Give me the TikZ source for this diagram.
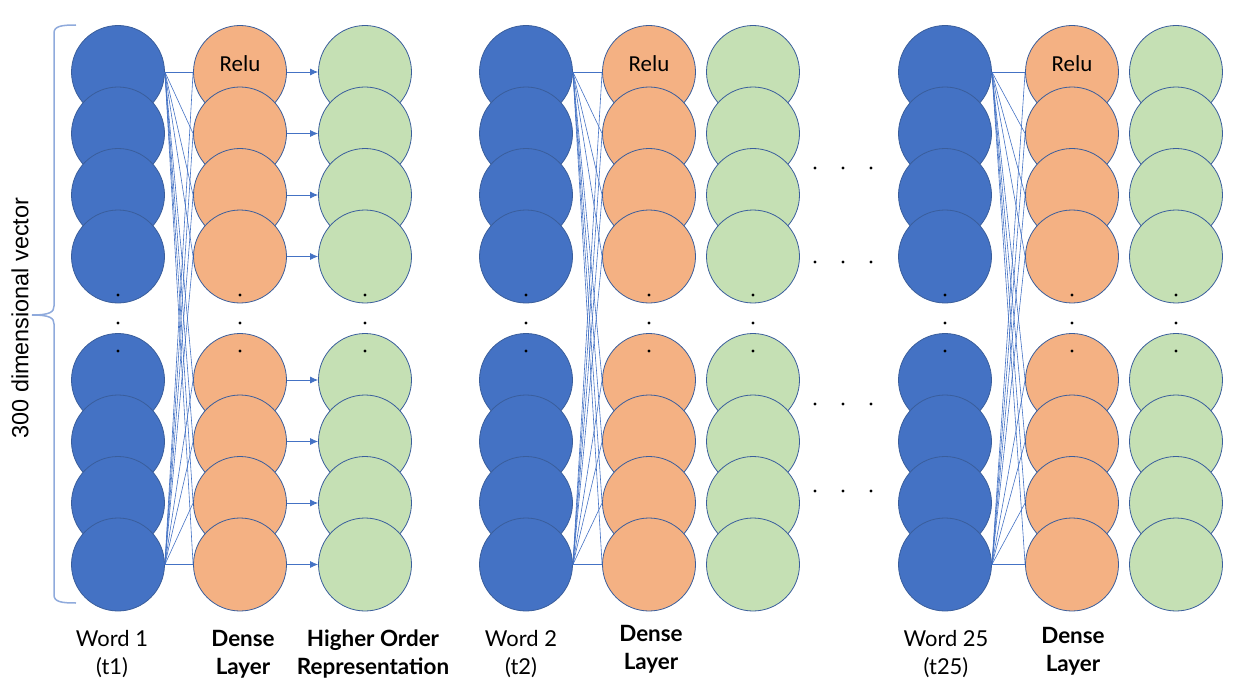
\documentclass[tikz,border=0pt]{standalone}
\usepackage{fontspec}
\setmainfont{Lato}
\newfontfamily\arialfont{Liberation Sans}
\newfontfamily\calibrifont{Carlito}
\usetikzlibrary{
  positioning,
  arrows.meta
}
\definecolor{wordblue}{HTML}{4472C4}
\definecolor{denseorange}{HTML}{F4B183}
\definecolor{reprgreen}{HTML}{C5E0B4}
\definecolor{rimblue}{HTML}{3A5E9C}
\definecolor{braceblue}{HTML}{8FAADC}
\tikzset{
  unit/.style={circle, draw=rimblue, line width=0.8bp, minimum size=93bp, inner sep=0pt},
  wordunit/.style={unit, fill=wordblue},
  denseunit/.style={unit, fill=denseorange},
  reprunit/.style={unit, fill=reprgreen},
  link/.style={draw=wordblue, line width=0.6bp},
  feed/.style={draw=wordblue, line width=0.8bp, -{Latex[length=8bp,width=7bp]}},
  caption/.style={align=center, font=\fontsize{22}{28}\selectfont},
  capbold/.style={align=center, font=\fontsize{22.5}{28}\selectfont\bfseries}
}

\begin{document}
\begin{tikzpicture}[x=1bp,y=-1bp]
  \useasboundingbox (0,0) rectangle (1235,690);

  \foreach \g/\bx/\ox/\gx in {1/118/240/365, 2/526/649/753, 3/945/1072/1176} {
    \foreach \r/\y in {1/72, 2/133.5, 3/195, 4/256.5, 5/380, 6/441.5, 7/503, 8/564.5} {
      \node (w\g-\r) [wordunit] at (\bx,\y) {};
      \node (d\g-\r) [denseunit] at (\ox,\y) {};
      \node (h\g-\r) [reprunit] at (\gx,\y) {};
    }
    \foreach \x in {\bx,\ox,\gx}
      \foreach \y in {295,323,351}
        \fill (\x,\y) circle (1.7bp);
    \foreach \r in {1,...,8} {
      \draw [link] (w\g-1.east) -- (d\g-\r.west);
      \draw [link] (w\g-8.east) -- (d\g-\r.west);
    }
    \node (relu\g) [font=\calibrifont\fontsize{23}{28}\selectfont] at ([yshift=8bp]d\g-1) {Relu};
  }

  \foreach \r in {1,...,8}
    \draw [feed] (d1-\r.east) -- (h1-\r.west);

  \foreach \y in {168,262,404,491}
    \foreach \x in {815,843,871}
      \fill (\x,\y) circle (1.7bp);

  % brace along the input vector
  \draw [braceblue, line width=1.5bp]
    (76,25) .. controls (62,25) and (54,26) .. (54,33) -- (54,306)
    .. controls (54,312) and (50,315) .. (32,315)
    .. controls (50,315) and (54,318) .. (54,324) -- (54,595)
    .. controls (54,602) and (62,603) .. (76,603);
  \node (dimlabel) [rotate=90, font=\arialfont\fontsize{23.5}{26}\selectfont] at (20,318) {300 dimensional vector};

  \node (word1) [caption] at (112,654) {Word 1\\(t1)};
  \node (dense1) [capbold] at (243,654) {Dense\\Layer};
  \node (higher1) [capbold] at (373,654) {Higher Order\\Representation};
  \node (word2) [caption] at (521,654) {Word 2\\(t2)};
  \node (dense2) [capbold] at (651,649) {Dense\\Layer};
  \node (word25) [caption] at (946,654) {Word 25\\(t25)};
  \node (dense25) [capbold] at (1073,651) {Dense\\Layer};
\end{tikzpicture}
\end{document}
